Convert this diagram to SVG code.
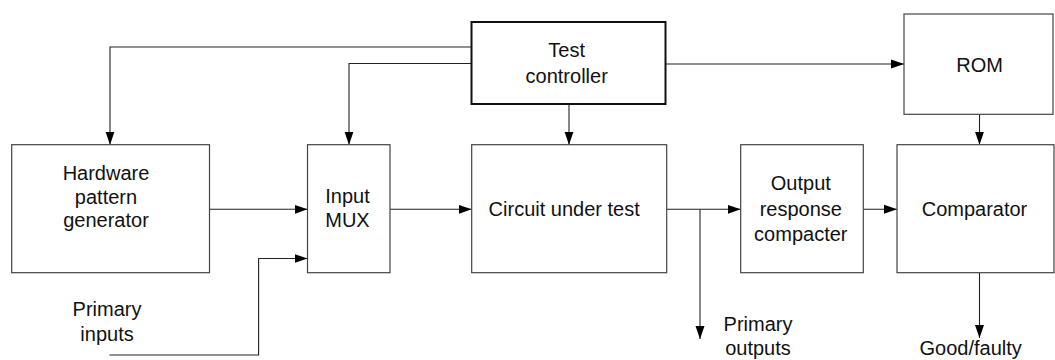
<svg xmlns="http://www.w3.org/2000/svg" width="1055" height="360" viewBox="0 0 1055 360">
<defs>
<marker id="arr" markerWidth="13" markerHeight="10" refX="13" refY="5" orient="auto" markerUnits="userSpaceOnUse"><path d="M0,0.5 L13,5 L0,9.5 z" fill="#000"/></marker>
<style>
.box{fill:#fff;stroke:#444;stroke-width:1.2}
.tc{fill:#fff;stroke:#111;stroke-width:2}
.lbl{font-family:"Liberation Sans",Arial,sans-serif;font-size:20px;fill:#111;text-anchor:middle}
.con{fill:none;stroke:#222;stroke-width:1.1}
.arrow{marker-end:url(#arr)}
</style>
</defs>
<rect width="1055" height="360" fill="#fff"/>
<g id="connectors">
<path class="con arrow" d="M471.5,47 H110 V144.7"/>
<path class="con arrow" d="M471.5,63.5 H349 V144.7"/>
<path class="con arrow" d="M569,104 V144.7"/>
<path class="con arrow" d="M665.5,64 H904"/>
<path class="con arrow" d="M979.5,114.3 V144.7"/>
<path class="con arrow" d="M209.5,209.3 H307.5"/>
<path class="con arrow" d="M109.5,355 H258.6 V258.5 H307.5"/>
<path class="con arrow" d="M390,209.3 H471.7"/>
<path class="con arrow" d="M666.7,209.3 H740.7"/>
<path class="con arrow" d="M700,209.3 V339"/>
<path class="con arrow" d="M863.3,209.3 H897"/>
<path class="con arrow" d="M979.5,272.7 V338"/>
</g>
<g id="test-controller">
<rect class="tc" x="471.5" y="22" width="194" height="82"/>
<text class="lbl" x="566.7" y="56.7">Test</text>
<text class="lbl" x="566.7" y="83.3">controller</text>
</g>
<g id="rom">
<rect class="box" x="904" y="14" width="149" height="100.3"/>
<text class="lbl" x="979.7" y="71.6">ROM</text>
</g>
<g id="hardware-pattern-generator">
<rect class="box" x="11.7" y="144.7" width="197.8" height="128"/>
<text class="lbl" x="106" y="180">Hardware</text>
<text class="lbl" x="106" y="203.5">pattern</text>
<text class="lbl" x="106" y="227">generator</text>
</g>
<g id="input-mux">
<rect class="box" x="307.5" y="144.7" width="82.5" height="128"/>
<text class="lbl" x="347.5" y="202.7">Input</text>
<text class="lbl" x="347.5" y="227.3">MUX</text>
</g>
<g id="circuit-under-test">
<rect class="box" x="471.7" y="144.7" width="195" height="128"/>
<text class="lbl" x="564.2" y="216">Circuit under test</text>
</g>
<g id="output-response-compacter">
<rect class="box" x="740.7" y="144.7" width="122.6" height="128"/>
<text class="lbl" x="800.8" y="190">Output</text>
<text class="lbl" x="800.8" y="216">response</text>
<text class="lbl" x="800.8" y="240.7">compacter</text>
</g>
<g id="comparator">
<rect class="box" x="897" y="144.7" width="157" height="128"/>
<text class="lbl" x="974.5" y="216">Comparator</text>
</g>
<g id="primary-inputs">
<text class="lbl" x="107" y="315.7">Primary</text>
<text class="lbl" x="107" y="340.7">inputs</text>
</g>
<g id="primary-outputs">
<text class="lbl" x="758" y="331">Primary</text>
<text class="lbl" x="758" y="355">outputs</text>
</g>
<g id="good-faulty">
<text class="lbl" x="970.7" y="355">Good/faulty</text>
</g>
</svg>
